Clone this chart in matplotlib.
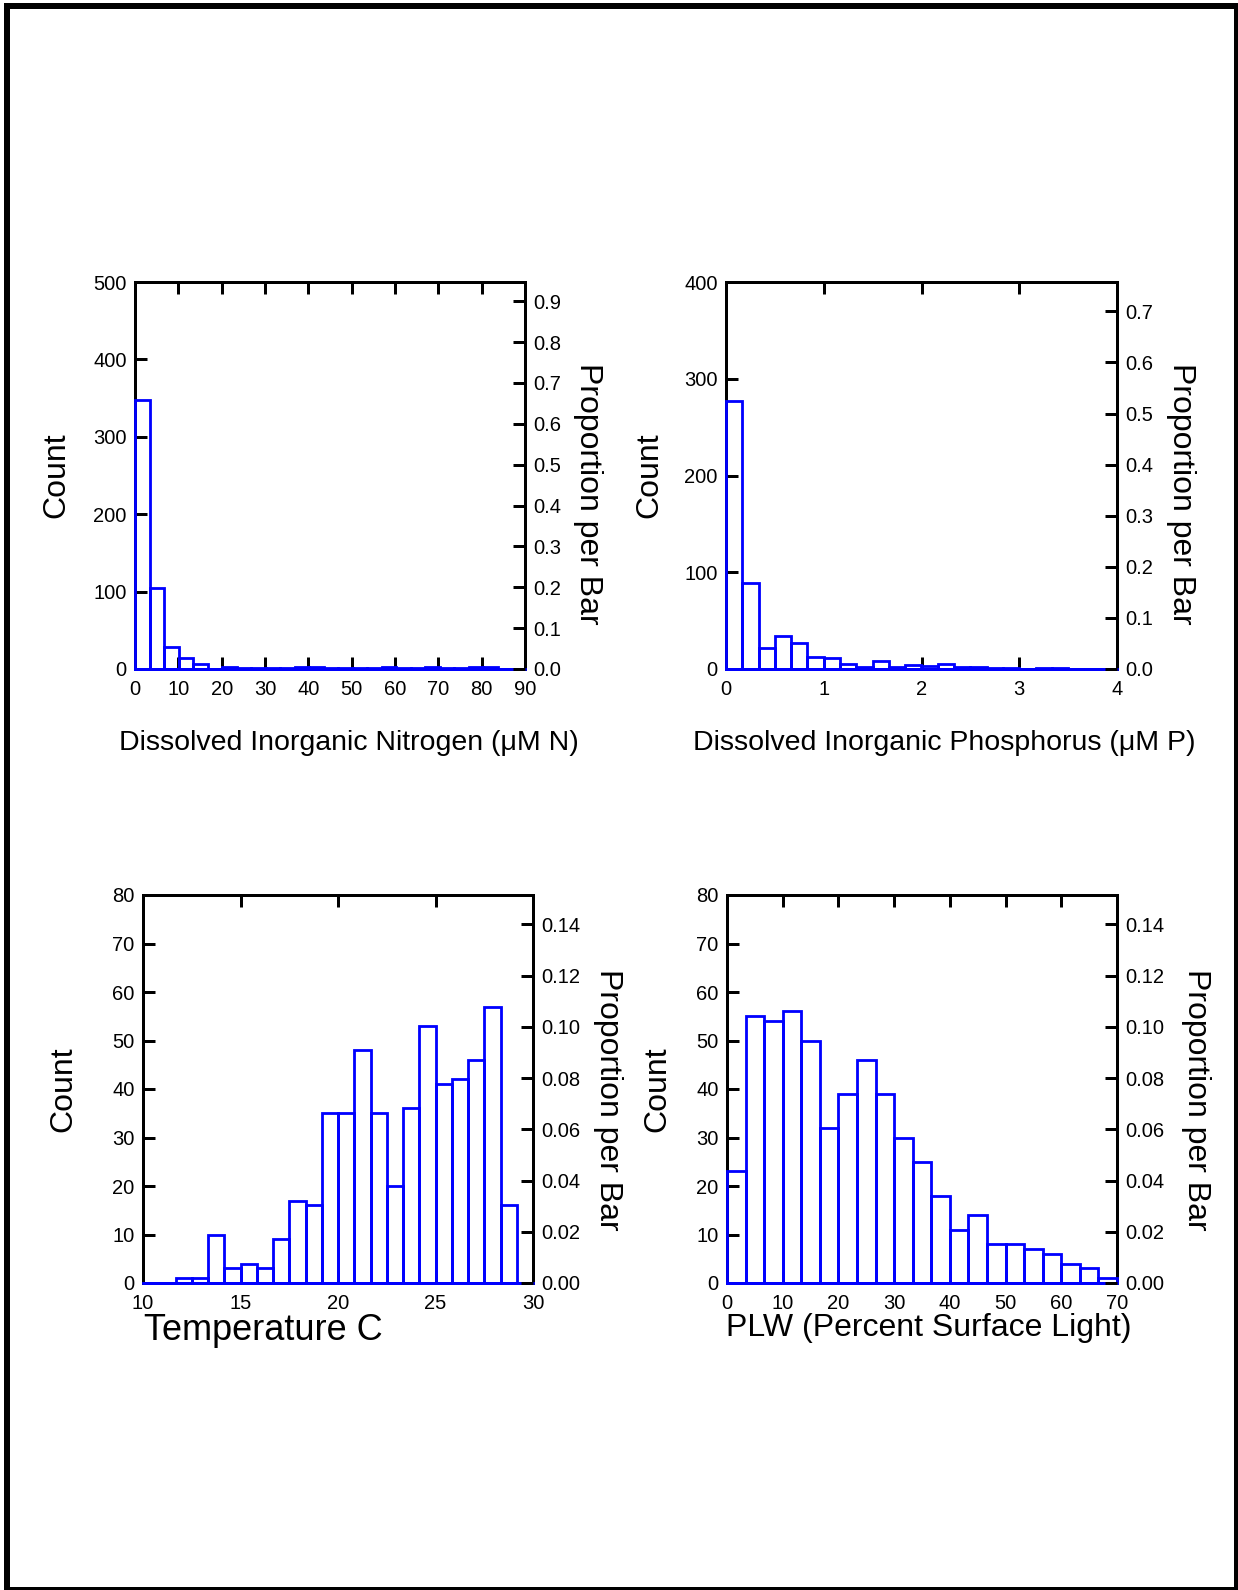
import matplotlib
matplotlib.use('Agg')
import matplotlib.pyplot as plt
import numpy as np
from matplotlib.patches import Rectangle
from matplotlib.ticker import FormatStrFormatter

plt.rcParams['font.family'] = ['Liberation Sans', 'DejaVu Sans']

# ---------------- data ----------------
N_TOTAL = 528

din_start = 0.0
din_bin_width = 3.35
din_counts = [347, 105, 28, 14, 6, 0, 3, 1, 1, 1, 1, 2, 2, 1, 1, 1, 1, 2, 1, 1,
              2, 1, 1, 2, 2, 0]

dip_start = 0.0
dip_bin_width = 1.0 / 6.0
dip_counts = [277, 89, 22, 34, 27, 12, 11, 5, 2, 8, 2, 4, 3, 5, 2, 2, 1, 1, 0, 1,
              1, 0, 0, 0]

temp_start = 10.0
temp_bin_width = 5.0 / 6.0
temp_counts = [0, 0, 1, 1, 10, 3, 4, 3, 9, 17, 16, 35, 35, 48, 35, 20, 36, 53, 41, 42,
               46, 57, 16, 0]

plw_start = 0.0
plw_bin_width = 10.0 / 3.0
plw_counts = [23, 55, 54, 56, 50, 32, 39, 46, 39, 30, 25, 18, 11, 14, 8, 8, 7, 6, 4, 3, 1]

din_xticks = [0, 10, 20, 30, 40, 50, 60, 70, 80, 90]
dip_xticks = [0, 1, 2, 3, 4]
temp_xticks = [10, 15, 20, 25, 30]
plw_xticks = [0, 10, 20, 30, 40, 50, 60, 70]

din_yticks = [0, 100, 200, 300, 400, 500]
dip_yticks = [0, 100, 200, 300, 400]
temp_yticks = [0, 10, 20, 30, 40, 50, 60, 70, 80]
plw_yticks = [0, 10, 20, 30, 40, 50, 60, 70, 80]

din_pticks = [0.0, 0.1, 0.2, 0.3, 0.4, 0.5, 0.6, 0.7, 0.8, 0.9]
dip_pticks = [0.0, 0.1, 0.2, 0.3, 0.4, 0.5, 0.6, 0.7]
temp_pticks = [0.00, 0.02, 0.04, 0.06, 0.08, 0.10, 0.12, 0.14]
plw_pticks = [0.00, 0.02, 0.04, 0.06, 0.08, 0.10, 0.12, 0.14]

din_label = "Dissolved Inorganic Nitrogen (\u03bcM N)"
dip_label = "Dissolved Inorganic Phosphorus (\u03bcM P)"
temp_label = "Temperature C"
plw_label = "PLW (Percent Surface Light)"

# ---------------- figure ----------------
W, H = 1238, 1590
fig = plt.figure(figsize=(W / 100, H / 100), dpi=100)
fig.patch.set_facecolor('white')

BLUE = '#0000FF'
PX = 72.0 / 100.0  # points per pixel
TICK_FS = 14.5


def fx(x):
    return x / W


def fy(y):
    return 1 - y / H


def panel(box, start, width, counts, xlim, xticks, ylim, yticks, pticks, pfmt,
          xlabel, xlabel_xy, xlabel_size, xlabel_ha, count_xy, prop_xy):
    l, t, r, b = box
    ax = fig.add_axes([fx(l), fy(b), (r - l) / W, (b - t) / H])
    ax.set_xlim(*xlim)
    ax.set_ylim(*ylim)
    lefts = start + width * np.arange(len(counts))
    ax.bar(lefts, counts, width=width, align='edge', fill=False,
           edgecolor=BLUE, linewidth=2.8 * PX, zorder=3, clip_on=False)
    ax.axhline(0, color=BLUE, linewidth=2.8 * PX, zorder=3, clip_on=False)
    for s in ax.spines.values():
        s.set_linewidth(3.0 * PX)
        s.set_color('black')
    ax.set_xticks(xticks)
    ax.set_xticklabels([str(v) for v in xticks])
    ax.set_yticks(yticks)
    ax.set_yticklabels([str(v) for v in yticks])
    ax.tick_params(axis='both', direction='in', length=12 * PX, width=3.0 * PX,
                   labelsize=TICK_FS, pad=6)
    ax.tick_params(axis='x', top=True, bottom=True, labeltop=False, pad=8)
    ax.tick_params(axis='y', left=True, right=False)

    ax2 = ax.twinx()
    ax2.set_ylim(ylim[0] / N_TOTAL, ylim[1] / N_TOTAL)
    ax2.set_yticks(pticks)
    ax2.yaxis.set_major_formatter(FormatStrFormatter(pfmt))
    ax2.tick_params(axis='y', direction='in', length=12 * PX, width=3.0 * PX,
                    labelsize=TICK_FS, pad=6)
    for s in ax2.spines.values():
        s.set_visible(False)

    fig.text(fx(xlabel_xy[0]), fy(xlabel_xy[1]), xlabel, fontsize=xlabel_size,
             ha=xlabel_ha, va='center')
    fig.text(fx(count_xy[0]), fy(count_xy[1]), "Count", fontsize=23,
             rotation=90, ha='center', va='center')
    fig.text(fx(prop_xy[0]), fy(prop_xy[1]), "Proportion per Bar", fontsize=23,
             rotation=270, ha='center', va='center')
    return ax


panel((135, 282, 525, 669), din_start, din_bin_width, din_counts, (0, 90), din_xticks,
      (0, 500), din_yticks, din_pticks, '%.1f',
      din_label, (349, 743), 20.5, 'center', (56, 475), (588, 494))

panel((726, 282, 1117, 669), dip_start, dip_bin_width, dip_counts, (0, 4), dip_xticks,
      (0, 400), dip_yticks, dip_pticks, '%.1f',
      dip_label, (944, 743), 20.5, 'center', (649, 475), (1181, 494))

panel((143, 895, 533, 1283), temp_start, temp_bin_width, temp_counts, (10, 30), temp_xticks,
      (0, 80), temp_yticks, temp_pticks, '%.2f',
      temp_label, (144, 1330), 26, 'left', (63, 1089), (608, 1100))

panel((727, 895, 1117, 1283), plw_start, plw_bin_width, plw_counts, (0, 70), plw_xticks,
      (0, 80), plw_yticks, plw_pticks, '%.2f',
      plw_label, (726, 1328), 23, 'left', (657, 1089), (1196, 1100))

# page frame
fig.patches.append(Rectangle((fx(7), fy(1589.5)), (1237 - 7) / W, (1589.5 - 6) / H,
                             transform=fig.transFigure, fill=False,
                             edgecolor='black', linewidth=6 * PX, zorder=10))

fig.savefig('out.png', dpi=100)
